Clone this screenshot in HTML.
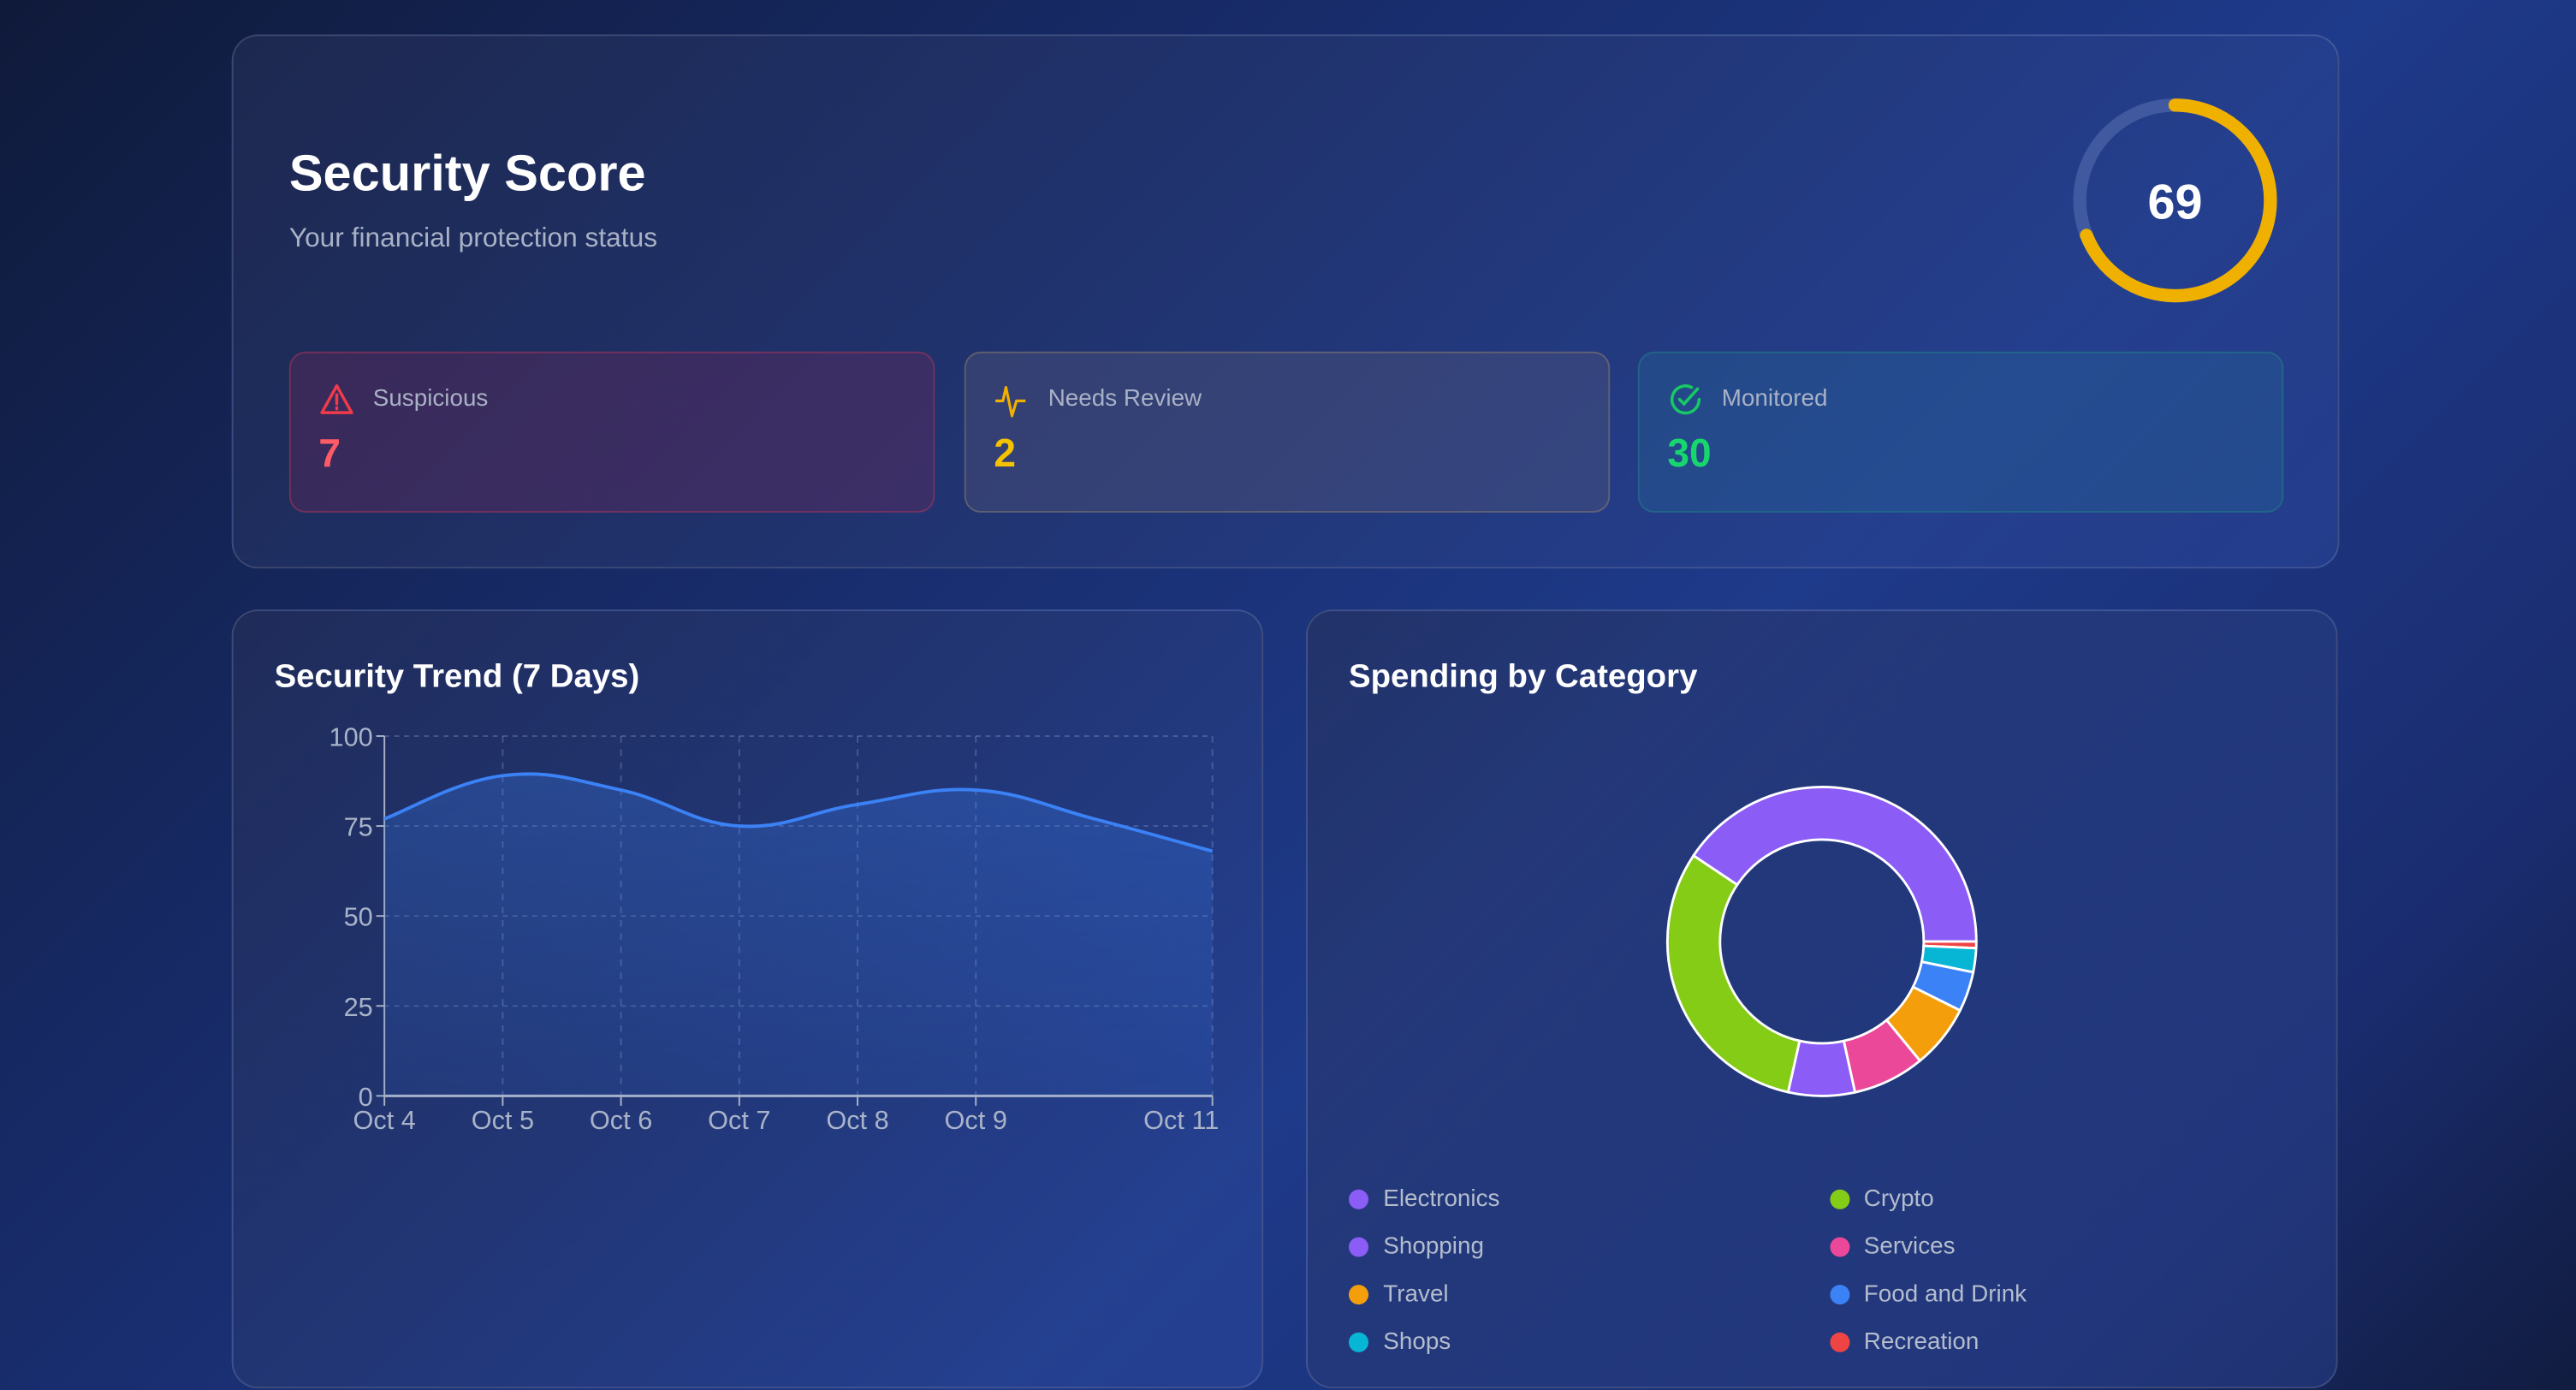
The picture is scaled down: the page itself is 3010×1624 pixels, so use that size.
<!DOCTYPE html>
<html><head><meta charset="utf-8"><style>
*{box-sizing:border-box;margin:0;padding:0}
html,body{width:3010px;height:1624px;overflow:hidden;background:#16286a}
body{background:linear-gradient(135deg,#0f1a3a 0%,#172a66 30%,#1e3a8a 60%,#1a2c6e 85%,#111c40 100%);font-family:"Liberation Sans",sans-serif;position:relative}
#root{position:absolute;left:0;top:0;width:1568px;height:846px;overflow:hidden;transform:scale(1.9196);transform-origin:0 0}
.card{position:absolute;border:1px solid rgba(255,255,255,0.13);border-radius:16px;background:linear-gradient(135deg,rgba(40,50,90,0.55),rgba(50,80,170,0.35))}
.stat{position:absolute;top:192px;height:98px;border-radius:10px;width:393px}
.stat .lbl{position:absolute;left:50px;top:20px;font-size:14.5px;color:#a9b1c6}
.stat .val{position:absolute;left:17px;top:48px;font-size:24px;font-weight:bold}
.stat svg{position:absolute;left:17px;top:18px}
h2{position:absolute;color:#fff;font-size:20px;font-weight:bold}
.leg{position:absolute;font-size:14.5px;color:#b4bccd}
.leg i{position:absolute;left:-21px;top:2px;width:12px;height:12px;border-radius:50%}
</style></head><body>
<div id="root">
<div class="card" style="left:141px;top:21px;width:1283px;height:325px">
 <div style="position:absolute;left:34px;top:66px;color:#fff;font-size:31px;font-weight:bold">Security Score</div>
 <div style="position:absolute;left:34px;top:114px;color:#a9b1c6;font-size:16.5px">Your financial protection status</div>
 <svg style="position:absolute;left:1110px;top:30px" width="140" height="140">
  <circle cx="72" cy="70" r="58" fill="none" stroke="rgba(120,140,200,0.35)" stroke-width="8"/>
  <circle id="gArc" cx="72" cy="70" r="58" fill="none" stroke="#f0b000" stroke-width="8" stroke-linecap="round" transform="rotate(-90 72 70)"/>
  <text x="72" y="81" text-anchor="middle" fill="#fff" font-size="30" font-weight="bold" font-family="Liberation Sans">69</text>
 </svg>
 <div class="stat" style="left:34px;background:rgba(110,40,90,0.35);border:1px solid rgba(220,60,90,0.35)">
  <svg width="22" height="20" viewBox="0 0 24 22"><path d="M12 2L22 20H2Z" fill="none" stroke="#ef3b4a" stroke-width="2" stroke-linejoin="round"/><path d="M12 8v6M12 16.5v1" stroke="#ef3b4a" stroke-width="2" stroke-linecap="round"/></svg>
  <div class="lbl">Suspicious</div><div class="val" style="color:#ff5b66">7</div></div>
 <div class="stat" style="left:445px;background:rgba(90,90,120,0.35);border:1px solid rgba(160,140,110,0.4)">
  <svg width="22" height="22" viewBox="0 0 24 24"><path d="M1 12h5l2-9 4 19 3-10h6" fill="none" stroke="#f0b000" stroke-width="1.8" stroke-linejoin="round"/></svg>
  <div class="lbl">Needs Review</div><div class="val" style="color:#f5c200">2</div></div>
 <div class="stat" style="left:855px;background:rgba(40,100,150,0.35);border:1px solid rgba(30,140,130,0.4)">
  <svg width="22" height="22" viewBox="0 0 24 24"><path d="M21 11a9 9 0 1 1-5-8" fill="none" stroke="#17c964" stroke-width="2" stroke-linecap="round"/><path d="M8 11l3 3 9-10" fill="none" stroke="#17c964" stroke-width="2" stroke-linecap="round"/></svg>
  <div class="lbl">Monitored</div><div class="val" style="color:#18d66e">30</div></div>
</div>

<div class="card" style="left:141px;top:371px;width:628px;height:474px">
 <h2 style="left:25px;top:29px">Security Trend (7 Days)</h2>
</div>
<svg id="trend" style="position:absolute;left:0;top:0" width="1568" height="846" font-family="Liberation Sans"></svg>

<div class="card" style="left:795px;top:371px;width:628px;height:474px">
 <h2 style="left:25px;top:29px">Spending by Category</h2>
</div>
<svg id="donut" style="position:absolute;left:0;top:0" width="1568" height="846"></svg>
<div id="legend"></div>
</div>
<script>
const NS="http://www.w3.org/2000/svg";
const score=69;
const trendDays=[0,1,2,3,4,5,6,7];
const trendValues=[77,89,85,75,81,85,77,68];
const xTickDays=[0,1,2,3,4,5,7];
const xTickLabels=["Oct 4","Oct 5","Oct 6","Oct 7","Oct 8","Oct 9","Oct 11"];
const yTicks=[0,25,50,75,100];
const catNames=["Electronics","Crypto","Shopping","Services","Travel","Food and Drink","Shops","Recreation"];
const catValues=[146,111,25,27,24,15,9,2.5];
const catColors=["#8b5cf6","#84cc16","#8b5cf6","#ec4899","#f59e0b","#3b82f6","#06b6d4","#ef4444"];

function mk(p,t,a){const e=document.createElementNS(NS,t);for(const k in a)e.setAttribute(k,a[k]);p.appendChild(e);return e;}
const C=2*Math.PI*58;const ga=document.getElementById('gArc');
ga.setAttribute('stroke-dasharray',(C*score/100)+' '+C);

const tv=document.getElementById('trend');
const X0=234,X1=738,Y0=667,Y1=448;
const xs=d=>X0+(X1-X0)*d/7, ys=v=>Y0-(Y0-Y1)*v/100;
const defs=mk(tv,'defs',{});const lg=mk(defs,'linearGradient',{id:'fillG',x1:0,y1:0,x2:0,y2:1});
mk(lg,'stop',{offset:0,'stop-color':'#3b82f6','stop-opacity':0.28});mk(lg,'stop',{offset:1,'stop-color':'#3b82f6','stop-opacity':0.08});
yTicks.forEach(v=>{const y=ys(v);
 if(v>0){const g=mk(tv,'line',{x1:X0,x2:X1,y1:y,y2:y,stroke:'rgba(160,175,215,0.3)','stroke-dasharray':'3 3'});}
 mk(tv,'line',{x1:X0-5,x2:X0,y1:y,y2:y,stroke:'#a9b3c8'});
 const t=mk(tv,'text',{x:X0-7,y:y+6,'text-anchor':'end',fill:'#a9b3c8','font-size':16});t.textContent=v;
 });
xTickDays.forEach((d,i)=>{const x=xs(d);
 if(d>0){const g=mk(tv,'line',{x1:x,x2:x,y1:Y1,y2:Y0,stroke:'rgba(160,175,215,0.3)','stroke-dasharray':'4 4'});}
 mk(tv,'line',{x1:x,x2:x,y1:Y0,y2:Y0+6,stroke:'#a9b3c8'});
 const last=i===xTickDays.length-1;
 const t=mk(tv,'text',{x:last?x+4:x,y:Y0+20,'text-anchor':last?'end':'middle',fill:'#a9b3c8','font-size':16});t.textContent=xTickLabels[i];
 });
mk(tv,'line',{x1:X0,x2:X0,y1:Y1,y2:Y0,stroke:'#a9b3c8'});
mk(tv,'line',{x1:X0,x2:X1,y1:Y0,y2:Y0,stroke:'#a9b3c8','stroke-width':1.5});
const P=trendDays.map((d,i)=>[xs(d),ys(trendValues[i])]);
let dstr='M'+P[0][0]+','+P[0][1];const tt=0.4;
for(let i=0;i<P.length-1;i++){const p0=P[Math.max(0,i-1)],p1=P[i],p2=P[i+1],p3=P[Math.min(P.length-1,i+2)];
 const c1=[p1[0]+(p2[0]-p0[0])*tt/2,p1[1]+(p2[1]-p0[1])*tt/2],c2=[p2[0]-(p3[0]-p1[0])*tt/2,p2[1]-(p3[1]-p1[1])*tt/2];
 dstr+=` C${c1[0]},${c1[1]} ${c2[0]},${c2[1]} ${p2[0]},${p2[1]}`;}
const area=mk(tv,'path',{d:dstr+` L${X1},${Y0} L${X0},${Y0} Z`,fill:'url(#fillG)'});

const ln=mk(tv,'path',{d:dstr,fill:'none',stroke:'#3b82f6','stroke-width':2});


const dv=document.getElementById('donut');const cx=1109,cy=573,Ro=94,Ri=62;
const total=catValues.reduce((a,b)=>a+b,0);let ang=0;
for(let k=catValues.length-1;k>=0;k--){const a0=ang,a1=ang+catValues[k]/total*2*Math.PI;ang=a1;
 const pt=(r,a)=>[cx+r*Math.cos(a),cy+r*Math.sin(a)];const L=(a1-a0)>Math.PI?1:0;
 const [x0,y0]=pt(Ro,a0),[x1,y1]=pt(Ro,a1),[x2,y2]=pt(Ri,a1),[x3,y3]=pt(Ri,a0);
 const s=mk(dv,'path',{d:`M${x0},${y0} A${Ro},${Ro} 0 ${L} 1 ${x1},${y1} L${x2},${y2} A${Ri},${Ri} 0 ${L} 0 ${x3},${y3} Z`,fill:catColors[k],stroke:'#fff','stroke-width':1.5});
 
 }
const legEl=document.getElementById('legend');
catNames.forEach((n,i)=>{const d=document.createElement('div');d.className='leg';
 d.style.left=(842+(i%2)*292.5)+'px';d.style.top=(722+Math.floor(i/2)*29)+'px';
 d.innerHTML='<i style="background:'+catColors[i]+'"></i>'+n;
 
 
 legEl.appendChild(d);});
</script>
</body></html>
